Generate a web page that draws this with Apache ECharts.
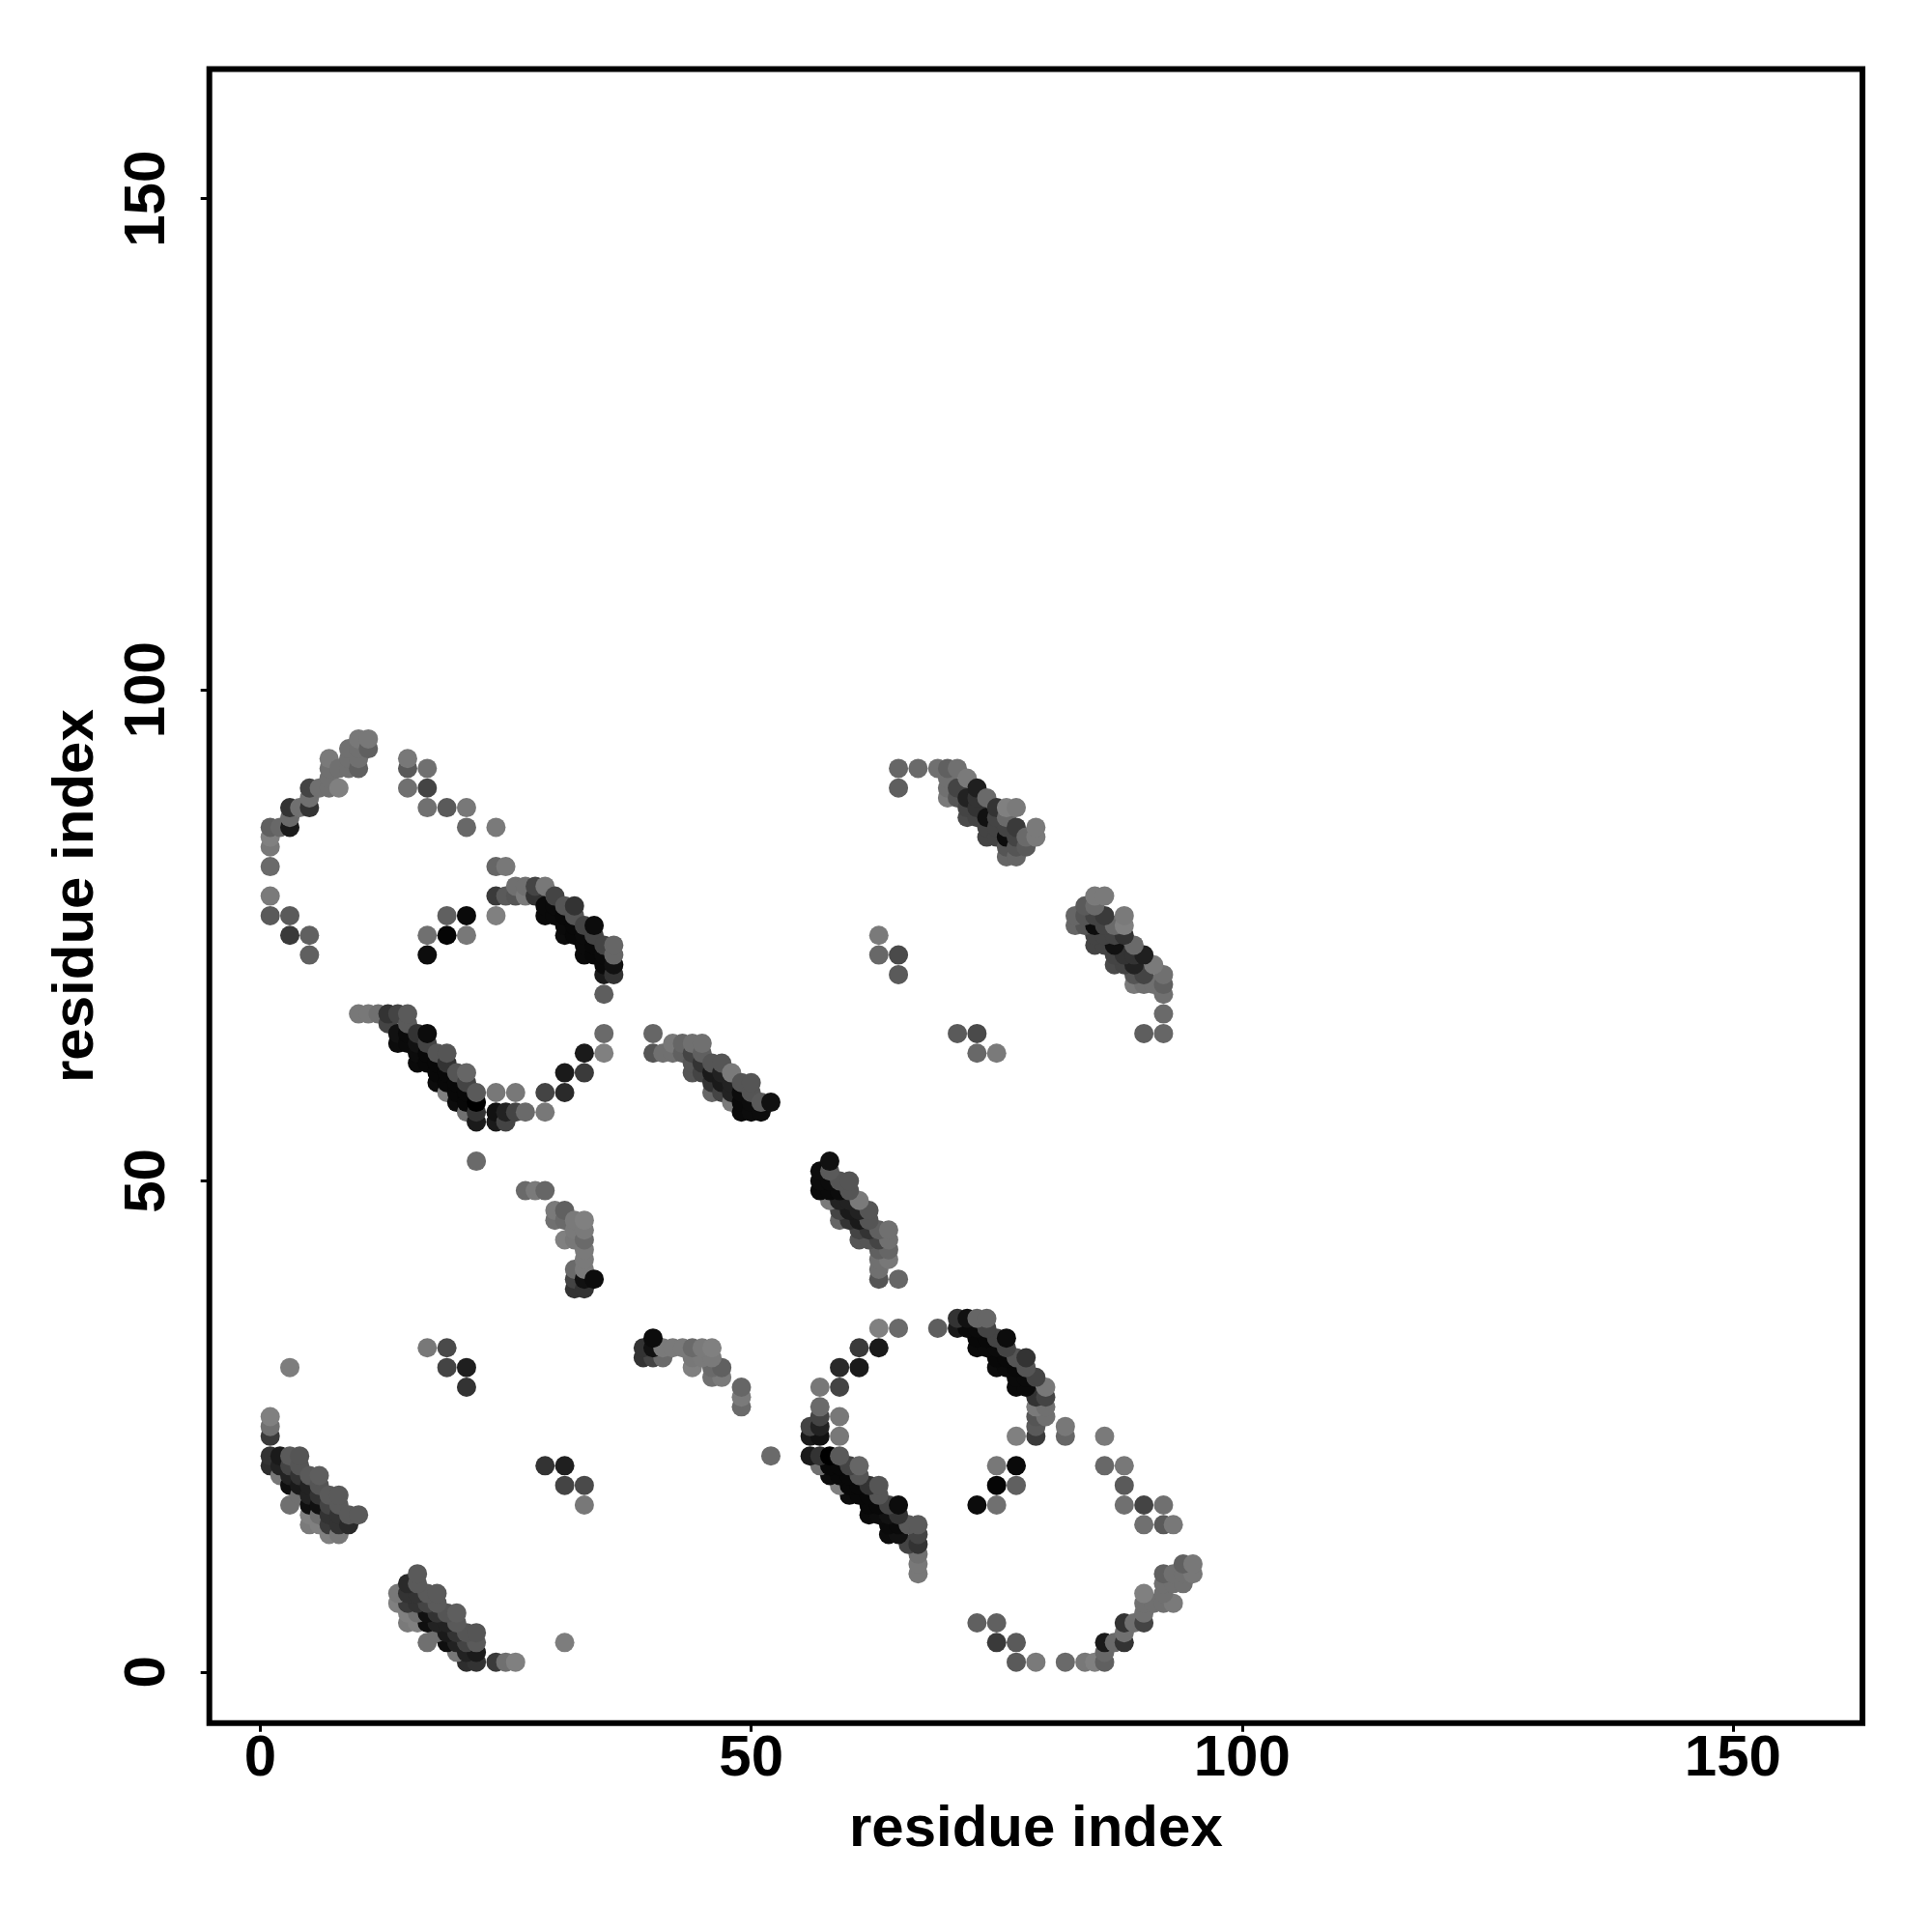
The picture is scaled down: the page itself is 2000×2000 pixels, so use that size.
<!DOCTYPE html>
<html><head><meta charset="utf-8">
<style>html,body{margin:0;padding:0;background:#fff}#c{width:2000px;height:2000px}</style>
<script src="https://cdn.jsdelivr.net/npm/echarts@6/dist/echarts.min.js"></script>
</head><body><div id="c"></div>
<script>
// Each contact: [residue i, residue j, gray level]; the map is symmetric.
const sheetA = [[1,21,0x2e],[1,22,0x33],[1,24,0x3a],[1,25,0x70],[1,26,0x80],[2,20,0x77],[2,21,0x22],[2,22,0x1a],[3,17,0x70],[3,19,0x0f],[3,20,0x22],[3,21,0x44],[3,22,0x5a],[3,31,0x7d],[4,18,0x70],[4,19,0x1a],[4,20,0x33],[4,21,0x55],[4,22,0x55],[5,15,0x7a],[5,16,0x80],[5,17,0x0f],[5,18,0x22],[5,19,0x22],[5,20,0x5a],[6,15,0x80],[6,16,0x70],[6,17,0x11],[6,18,0x33],[6,19,0x55],[6,20,0x5e],[7,14,0x80],[7,15,0x3a],[7,16,0x33],[7,17,0x44],[7,18,0x5a],[8,14,0x78],[8,15,0x33],[8,16,0x33],[8,17,0x5a],[8,18,0x5a],[9,15,0x2a],[9,16,0x5a],[10,16,0x5a]];
const arcTopLeft = [[1,77,0x5a],[1,79,0x7a],[1,82,0x6a],[1,84,0x78],[1,85,0x80],[1,86,0x60],[2,86,0x68],[3,75,0x3a],[3,77,0x5a],[3,86,0x1a],[3,87,0x6a],[3,88,0x33],[4,88,0x70],[5,73,0x60],[5,75,0x60],[5,88,0x33],[5,89,0x70],[5,90,0x44],[6,90,0x70],[7,90,0x70],[7,91,0x70],[7,92,0x70],[7,93,0x7a],[8,90,0x80],[8,92,0x70],[9,92,0x70],[9,93,0x70],[9,94,0x70],[10,92,0x60],[10,93,0x70],[10,94,0x70],[10,95,0x78],[11,94,0x60],[11,95,0x78]];
const scatteredMid = [[15,90,0x70],[15,92,0x5a],[15,93,0x78],[17,33,0x78],[17,73,0x0c],[17,75,0x70],[17,88,0x70],[17,90,0x44],[17,92,0x70],[19,31,0x44],[19,33,0x4a],[19,75,0x05],[19,77,0x60],[19,88,0x5a],[21,29,0x33],[21,31,0x1f],[21,75,0x78],[21,77,0x0a],[21,86,0x68],[21,88,0x78],[22,52,0x6a],[24,77,0x80],[24,82,0x66],[24,86,0x7a],[25,82,0x78]];
const sheetB = [[24,79,0x3a],[25,79,0x5a],[26,79,0x55],[26,80,0x70],[27,79,0x7a],[27,80,0x70],[28,79,0x33],[28,80,0x44],[29,77,0x0a],[29,78,0x0a],[29,80,0x78],[30,77,0x0a],[30,78,0x0a],[30,79,0x44],[31,75,0x0c],[31,76,0x0a],[31,77,0x08],[31,78,0x55],[32,75,0x08],[32,76,0x08],[32,77,0x55],[32,78,0x33],[33,73,0x0a],[33,74,0x0a],[33,75,0x0a],[33,76,0x44],[34,73,0x08],[34,74,0x08],[34,75,0x44],[34,76,0x0c],[35,71,0x1a],[35,72,0x0a],[35,73,0x0a],[35,74,0x44],[36,71,0x33],[36,72,0x11],[36,73,0x66],[36,74,0x66],[35,69,0x5e],[35,65,0x6a],[35,63,0x80],[33,63,0x1a],[33,61,0x3a],[31,61,0x1a],[31,59,0x2a],[29,59,0x44],[29,57,0x78],[26,59,0x78],[24,59,0x78]];
const sheetC = [[10,67,0x78],[11,67,0x78],[12,67,0x70],[13,66,0x44],[13,67,0x33],[14,64,0x0c],[14,65,0x11],[14,67,0x44],[15,64,0x0a],[15,65,0x0a],[15,66,0x5a],[15,67,0x5a],[16,62,0x0a],[16,63,0x0c],[16,64,0x11],[16,65,0x33],[17,62,0x08],[17,63,0x08],[17,64,0x44],[17,65,0x0c],[18,60,0x0c],[18,61,0x08],[18,62,0x08],[18,63,0x55],[19,59,0x80],[19,60,0x08],[19,61,0x08],[19,62,0x33],[19,63,0x55],[20,58,0x0c],[20,59,0x08],[20,60,0x08],[20,61,0x55],[21,57,0x70],[21,58,0x08],[21,59,0x08],[21,60,0x44],[21,61,0x66],[22,56,0x1a],[22,57,0x33],[22,58,0x00],[22,59,0x5a],[24,56,0x1a],[24,57,0x11],[25,56,0x44],[25,57,0x22],[26,57,0x44],[27,57,0x6a]];
const sheetD = [[27,49,0x6a],[28,49,0x7a],[29,49,0x66],[30,46,0x70],[30,47,0x7a],[31,44,0x80],[31,46,0x6a],[31,47,0x60],[32,39,0x33],[32,40,0x44],[32,41,0x6a],[32,44,0x78],[32,45,0x7a],[32,46,0x7a],[33,39,0x33],[33,40,0x11],[33,41,0x7a],[33,42,0x7a],[33,43,0x7a],[33,44,0x6a],[33,45,0x7a],[33,46,0x80],[34,40,0x0c]];
const sheetE = [[40,63,0x55],[40,65,0x66],[41,63,0x70],[42,63,0x70],[42,64,0x78],[43,63,0x60],[43,64,0x66],[44,61,0x55],[44,62,0x55],[44,63,0x44],[44,64,0x70],[45,61,0x44],[45,62,0x33],[45,63,0x60],[45,64,0x70],[46,59,0x66],[46,60,0x33],[46,61,0x1a],[46,62,0x55],[47,59,0x44],[47,60,0x1a],[47,61,0x22],[47,62,0x55],[48,58,0x7a],[48,59,0x22],[48,60,0x22],[48,61,0x7a],[49,57,0x0a],[49,58,0x0a],[49,59,0x0c],[49,60,0x55],[50,57,0x0c],[50,58,0x0c],[50,59,0x55],[50,60,0x55],[51,57,0x0c],[51,58,0x5a],[52,58,0x11]];
const sheetF = [[63,73,0x68],[63,75,0x7a],[65,71,0x5a],[65,73,0x4a],[65,90,0x5e],[65,92,0x66],[67,92,0x6a],[69,92,0x70],[70,89,0x7a],[70,90,0x70],[70,91,0x70],[70,92,0x60],[71,89,0x55],[71,90,0x44],[71,92,0x70],[72,87,0x4a],[72,88,0x44],[72,89,0x22],[72,91,0x7a],[73,87,0x44],[73,88,0x33],[73,89,0x33],[73,90,0x1f],[74,85,0x44],[74,86,0x44],[74,87,0x11],[74,89,0x6a],[75,85,0x44],[75,86,0x44],[75,87,0x44],[75,88,0x33],[76,83,0x66],[76,84,0x55],[76,85,0x0c],[76,86,0x44],[76,87,0x6a],[76,88,0x80],[77,83,0x66],[77,84,0x55],[77,85,0x44],[77,86,0x3a],[77,88,0x7a],[78,84,0x5a],[78,85,0x6a],[79,85,0x7a],[79,86,0x7a]];
const tickValues = [0, 50, 100, 150];
const axisTitle = "residue index";

const contacts = [].concat(sheetA, arcTopLeft, scatteredMid, sheetB, sheetC, sheetD, sheetE, sheetF)
  .slice().sort((a, b) => a[0] - b[0] || a[1] - b[1]);
const points = [];
contacts.forEach(([i, j, g]) => { points.push([i, j, g]); points.push([j, i, g]); });

const font = '"Liberation Sans", Arial, sans-serif';
function axis(extra) {
  return Object.assign({
    type: 'value', min: -5.2, max: 163.2, splitLine: { show: false },
    name: axisTitle, nameLocation: 'middle',
    nameTextStyle: { fontFamily: font, fontWeight: 'bold', fontSize: 60, color: '#000' },
    axisLine: { show: false, onZero: false },
    axisTick: { show: true, length: 9, inside: false, customValues: tickValues, lineStyle: { color: '#000', width: 3 } }
  }, extra);
}
const chart = echarts.init(document.getElementById('c'), null, { renderer: 'canvas' });
chart.setOption({
  animation: false,
  backgroundColor: '#fff',
  grid: { show: true, left: 216.7, right: 72, top: 71.5, bottom: 216.3, borderColor: '#000', borderWidth: 6, backgroundColor: '#fff', containLabel: false },
  xAxis: axis({ nameGap: 81,
    axisLabel: { show: true, margin: 8, customValues: tickValues, fontFamily: font, fontWeight: 'bold', fontSize: 60, color: '#000' } }),
  yAxis: axis({ nameGap: 107,
    axisLabel: { show: true, margin: 33, rotate: 90, customValues: tickValues, fontFamily: font, fontWeight: 'bold', fontSize: 60, color: '#000', align: 'center', verticalAlign: 'bottom' } }),
  series: [{
    type: 'scatter', symbol: 'circle', symbolSize: 20, data: points, silent: true, progressive: 0,
    itemStyle: { opacity: 1, color: p => { const g = p.value[2]; return `rgb(${g},${g},${g})`; } }
  }]
});
</script></body></html>
